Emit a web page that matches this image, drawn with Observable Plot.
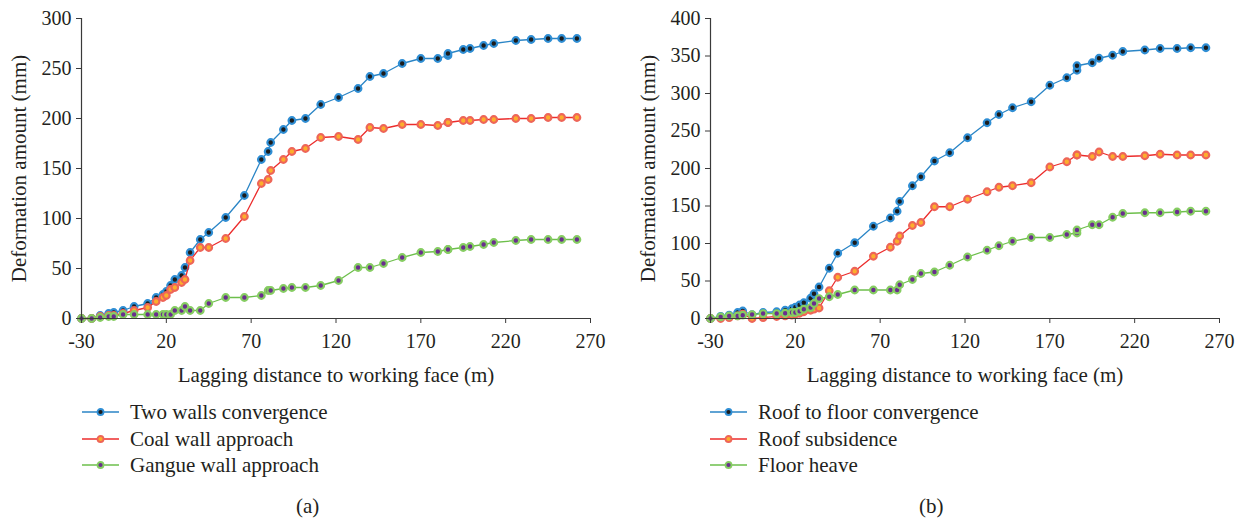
<!DOCTYPE html>
<html><head><meta charset="utf-8">
<script src="https://cdn.jsdelivr.net/npm/d3@7"></script>
<script src="https://cdn.jsdelivr.net/npm/@observablehq/plot@0.6"></script>
<style>
body{margin:0;background:#fff;font-family:"Liberation Serif",serif;color:#231f20;}
#wrap{position:relative;width:1239px;height:522px;overflow:hidden}
.panel{position:absolute;top:0;width:625px;height:390px}
.legend{position:absolute;font-size:21px;line-height:26.5px}
.legend .row{display:flex;align-items:center;height:26.5px}
.legend svg{margin-right:11px}
.tag{position:absolute;font-size:21px;top:494px}
g[aria-label="x-axis label"] text, g[aria-label="y-axis label"] text{font-size:21px}
</style></head><body>
<div id="wrap"></div>
<script>
// shared lagging distances (m)
const distance = [-30, -24, -19, -14, -11, -5.5, 1, 9, 14, 18, 20, 22.5, 25, 29, 31, 34, 40, 45, 55, 66, 76, 80, 81.5, 89, 94, 102, 111, 121.5, 133, 140, 148, 159, 170, 180, 186, 186, 195, 199, 207, 213, 226, 235, 245, 253, 262];
// panel (a)
const twoWalls = [0, 0, 3, 5, 6, 8, 12, 15, 21, 24, 27, 33, 39, 43, 51, 66, 79, 86, 101, 123, 159, 167, 176, 189, 198, 200, 214, 221, 230, 242, 245, 255, 260, 260, 263, 265, 269, 270, 273, 275, 278, 279, 280, 280, 280];
const coalWall = [0, 0, 2, 3, 3, 5, 8, 11, 17, 21, 23, 29, 31, 36, 39, 58, 71, 71, 80, 102, 135, 139, 148, 159, 167, 170, 181, 182, 179, 191, 190, 194, 194, 193, 196, 196, 198, 198, 199, 199, 200, 200, 201, 201, 201];
const gangueWall = [0, 0, 1, 2, 2, 4, 4, 4, 4, 4, 4, 4, 8, 8, 12, 8, 8, 15, 21, 21, 23, 28, 28, 30, 31, 31, 33, 38, 51, 51, 55, 61, 66, 67, 69, 69, 71, 72, 74, 76, 78, 79, 79, 79, 79];
// panel (b)
const roofFloor = [0, 2.7, 4.4, 8, 10, 5, 8, 9, 11, 13, 15, 18, 21, 27, 33, 42, 67, 87, 101, 123, 134, 143, 156, 177, 189, 210, 221, 241, 261, 272, 281, 289, 311, 321, 331, 337, 341, 347, 351, 356, 358, 360, 360, 361, 361];
const roofSubsidence = [0, 0, 1.3, 3.5, 5.8, 0, 1.3, 2.7, 3.5, 4.4, 5.8, 7, 9, 11, 12.4, 14, 37, 55, 63, 83, 95, 103, 110, 124, 128, 149, 149, 159, 169, 175, 177, 181, 202, 209, 218, 218, 216, 222, 216, 216, 217, 219, 218, 218, 218];
const floorHeave = [0, 2.2, 3.5, 3.5, 4.4, 5.3, 6.6, 6.6, 7, 8, 8, 9.7, 12.4, 14.6, 20, 26.6, 29, 32, 38, 38, 38, 38, 45, 52, 60, 62, 71, 82, 91, 97, 103, 108, 108, 112, 114, 118, 125, 125, 135, 140, 141, 141, 142, 143, 143];

const xTicks = [-30, 20, 70, 120, 170, 220, 270];
const yTicksA = [0, 50, 100, 150, 200, 250, 300];
const yTicksB = [0, 50, 100, 150, 200, 250, 300, 350, 400];
const namesA = ["Two walls convergence", "Coal wall approach", "Gangue wall approach"];
const namesB = ["Roof to floor convergence", "Roof subsidence", "Floor heave"];
const xTitle = "Lagging distance to working face (m)";
const yTitle = "Deformation amount (mm)";

const styles = [
  {line: "#2a85c6", ring: "#2f8ed4", fill: "#1c1c1c"},
  {line: "#ec2c2c", ring: "#ee6558", fill: "#fcae2c"},
  {line: "#6dbf4b", ring: "#86cd62", fill: "#6a2d8e"}
];

function makeChart(seriesValues, names, yTicks, marginLeft) {
  const marks = [];
  seriesValues.forEach((vals, k) => {
    const rows = distance.map((d, i) => ({x: d, y: vals[i], name: names[k]}));
    marks.push(Plot.line(rows, {x: "x", y: "y", stroke: styles[k].line, strokeWidth: 1.3}));
    marks.push(Plot.dot(rows, {x: "x", y: "y", r: 3.3, fill: styles[k].fill, stroke: styles[k].ring, strokeWidth: 2.2}));
  });
  marks.push(Plot.ruleX([-30], {stroke: "#3a3a3a", strokeWidth: 1.2}));
  marks.push(Plot.ruleY([0], {stroke: "#3a3a3a", strokeWidth: 1.2}));
  marks.push(Plot.axisX({ticks: xTicks, tickSize: 5, tickPadding: 10, tickFormat: d => String(d), stroke: "#3a3a3a",
    label: xTitle, labelAnchor: "center", labelArrow: "none", labelOffset: 63}));
  marks.push(Plot.axisY({ticks: yTicks, tickSize: 5, tickPadding: 5, tickFormat: d => String(d), stroke: "#3a3a3a",
    label: yTitle, labelAnchor: "center", labelArrow: "none", labelOffset: 70}));
  return Plot.plot({
    width: 625, height: 390,
    marginLeft: marginLeft, marginRight: 625 - marginLeft - 509, marginTop: 18, marginBottom: 72,
    x: {domain: [-30, 270]},
    y: {domain: [0, yTicks[yTicks.length - 1]]},
    style: {fontFamily: "'Liberation Serif', serif", fontSize: "20px", color: "#231f20", background: "transparent", overflow: "visible"},
    marks
  });
}

function legend(names, left, top) {
  const div = document.createElement("div");
  div.className = "legend";
  div.style.left = left + "px";
  div.style.top = top + "px";
  names.forEach((n, k) => {
    const row = document.createElement("div");
    row.className = "row";
    row.innerHTML = `<svg width="37" height="10"><line x1="0" x2="37" y1="5" y2="5" stroke="${styles[k].line}" stroke-width="1.5"/><circle cx="18.5" cy="5" r="3" fill="${styles[k].fill}" stroke="${styles[k].ring}" stroke-width="1.8"/></svg><span>${n}</span>`;
    div.appendChild(row);
  });
  return div;
}

const wrap = document.getElementById("wrap");
const pa = document.createElement("div"); pa.className = "panel"; pa.style.left = "0px";
pa.appendChild(makeChart([twoWalls, coalWall, gangueWall], namesA, yTicksA, 81));
const pb = document.createElement("div"); pb.className = "panel"; pb.style.left = "629px";
pb.appendChild(makeChart([roofFloor, roofSubsidence, floorHeave], namesB, yTicksB, 81));
wrap.appendChild(pa); wrap.appendChild(pb);
wrap.appendChild(legend(namesA, 82, 399));
wrap.appendChild(legend(namesB, 710, 399));
const ta = document.createElement("div"); ta.className = "tag"; ta.style.left = "296px"; ta.textContent = "(a)"; wrap.appendChild(ta);
const tb = document.createElement("div"); tb.className = "tag"; tb.style.left = "919px"; tb.textContent = "(b)"; wrap.appendChild(tb);
</script>
</body></html>
